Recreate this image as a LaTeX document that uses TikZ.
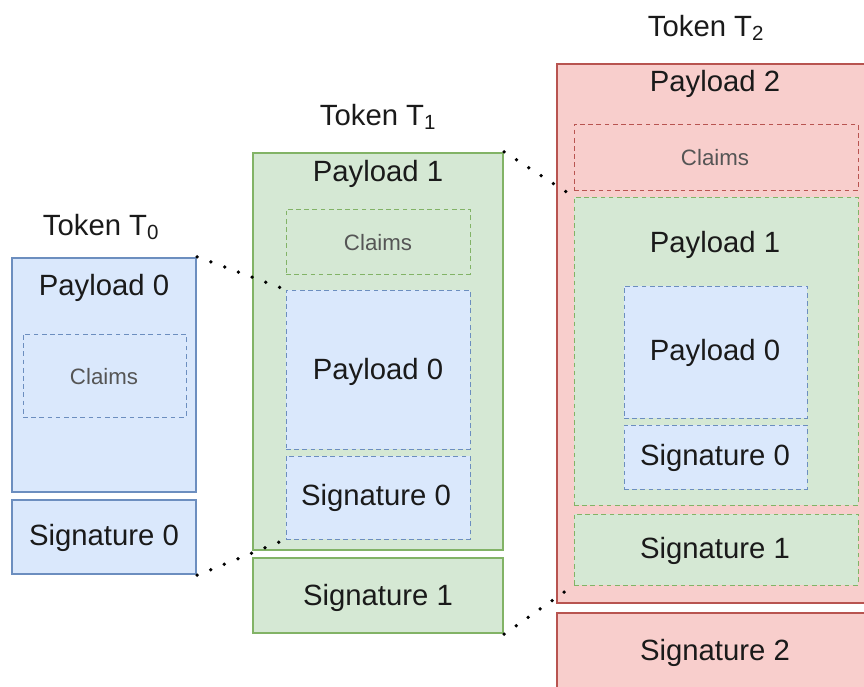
\documentclass[tikz,border=0pt]{standalone}
\usepackage{fontspec}
\setmainfont{Liberation Sans}
\usepackage{tikz}
\usetikzlibrary{fit}
\usetikzlibrary{positioning}
\definecolor{bluefill}{HTML}{DAE8FC}
\definecolor{bluedraw}{HTML}{6C8EBF}
\definecolor{greenfill}{HTML}{D5E8D4}
\definecolor{greendraw}{HTML}{82B366}
\definecolor{redfill}{HTML}{F8CECC}
\definecolor{reddraw}{HTML}{B85450}
\definecolor{textcol}{HTML}{1A1A1A}
\definecolor{claimcol}{HTML}{555555}
\tikzset{
    bluebox/.style = {rectangle, line width=2pt, draw=bluedraw, fill=bluefill, inner sep=0pt},
    greenbox/.style = {rectangle, line width=2pt, draw=greendraw, fill=greenfill, inner sep=0pt},
    redbox/.style = {rectangle, line width=2pt, draw=reddraw, fill=redfill, inner sep=0pt},
    bluedash/.style = {rectangle, line width=0.8pt, draw=bluedraw, fill=bluefill, dash pattern=on 4pt off 3pt, inner sep=0pt},
    greendash/.style = {rectangle, line width=0.8pt, draw=greendraw, fill=greenfill, dash pattern=on 4pt off 3pt, inner sep=0pt},
    reddash/.style = {rectangle, line width=0.8pt, draw=reddraw, fill=redfill, dash pattern=on 4pt off 3pt, inner sep=0pt},
    txt/.style = {inner sep=0pt, text=textcol, font=\fontsize{25}{29}\selectfont},
    claimtxt/.style = {inner sep=0pt, text=claimcol, font=\fontsize{19}{23}\selectfont},
    dotline/.style = {line width=3.2pt, line cap=round, dash pattern=on 0pt off 12.5pt, black} % dotted links
}

\begin{document}
\begin{tikzpicture}[x=0.03cm, y=-0.03cm]
  \clip (0,0) rectangle (864,686);

  % token T0
  \node[bluebox, fit={(12,258) (196,492)}] (p0) {};
  \node[bluedash, fit={(23,334) (186,417)}] (c0) {};
  \node[bluebox, fit={(12,500) (196,574)}] (s0) {};
  \node[txt] (tok0) at (101,227) {Token T\textsubscript{0}};
  \node[txt] (p0t) at (104,288) {Payload 0};
  \node[claimtxt] (c0t) at (104,377) {Claims};
  \node[txt] (s0t) at (104,538) {Signature 0};

  % token T1
  \node[greenbox, fit={(253,153) (503,550)}] (p1) {};
  \node[greendash, fit={(286,209) (470,274)}] (c1) {};
  \node[bluedash, fit={(286,290) (470,449)}] (p1p0) {};
  \node[bluedash, fit={(286,456) (470,539)}] (p1s0) {};
  \node[greenbox, fit={(253,558) (503,633)}] (s1) {};
  \node[txt] (tok1) at (378,117) {Token T\textsubscript{1}};
  \node[txt] (p1t) at (378,174) {Payload 1};
  \node[claimtxt] (c1t) at (378,243) {Claims};
  \node[txt] (p1p0t) at (378,372) {Payload 0};
  \node[txt] (p1s0t) at (376,498) {Signature 0};
  \node[txt] (s1t) at (378,598) {Signature 1};

  % token T2
  \node[redbox, fit={(557,64) (875,603)}] (p2) {};
  \node[reddash, fit={(574,124) (858,190)}] (c2) {};
  \node[greendash, fit={(574,197) (858,505)}] (p2p1) {};
  \node[bluedash, fit={(624,286) (807,418)}] (p2p0) {};
  \node[bluedash, fit={(624,425) (807,489)}] (p2s0) {};
  \node[greendash, fit={(574,514) (858,585)}] (p2s1) {};
  \node[redbox, fit={(557,613) (875,690)}] (s2) {};
  \node[txt] (tok2) at (706,28) {Token T\textsubscript{2}};
  \node[txt] (p2t) at (715,84) {Payload 2};
  \node[claimtxt] (c2t) at (715,158) {Claims};
  \node[txt] (p2p1t) at (715,245) {Payload 1};
  \node[txt] (p2p0t) at (715,353) {Payload 0};
  \node[txt] (p2s0t) at (715,458) {Signature 0};
  \node[txt] (p2s1t) at (715,551) {Signature 1};
  \node[txt] (s2t) at (715,653) {Signature 2};

  \draw[dotline] (p0.north east) -- (p1p0.north west);
  \draw[dotline] (s0.south east) -- (p1s0.south west);
  \draw[dotline] (p1.north east) -- (p2p1.north west);
  \draw[dotline] (s1.south east) -- (p2s1.south west);
\end{tikzpicture}
\end{document}
